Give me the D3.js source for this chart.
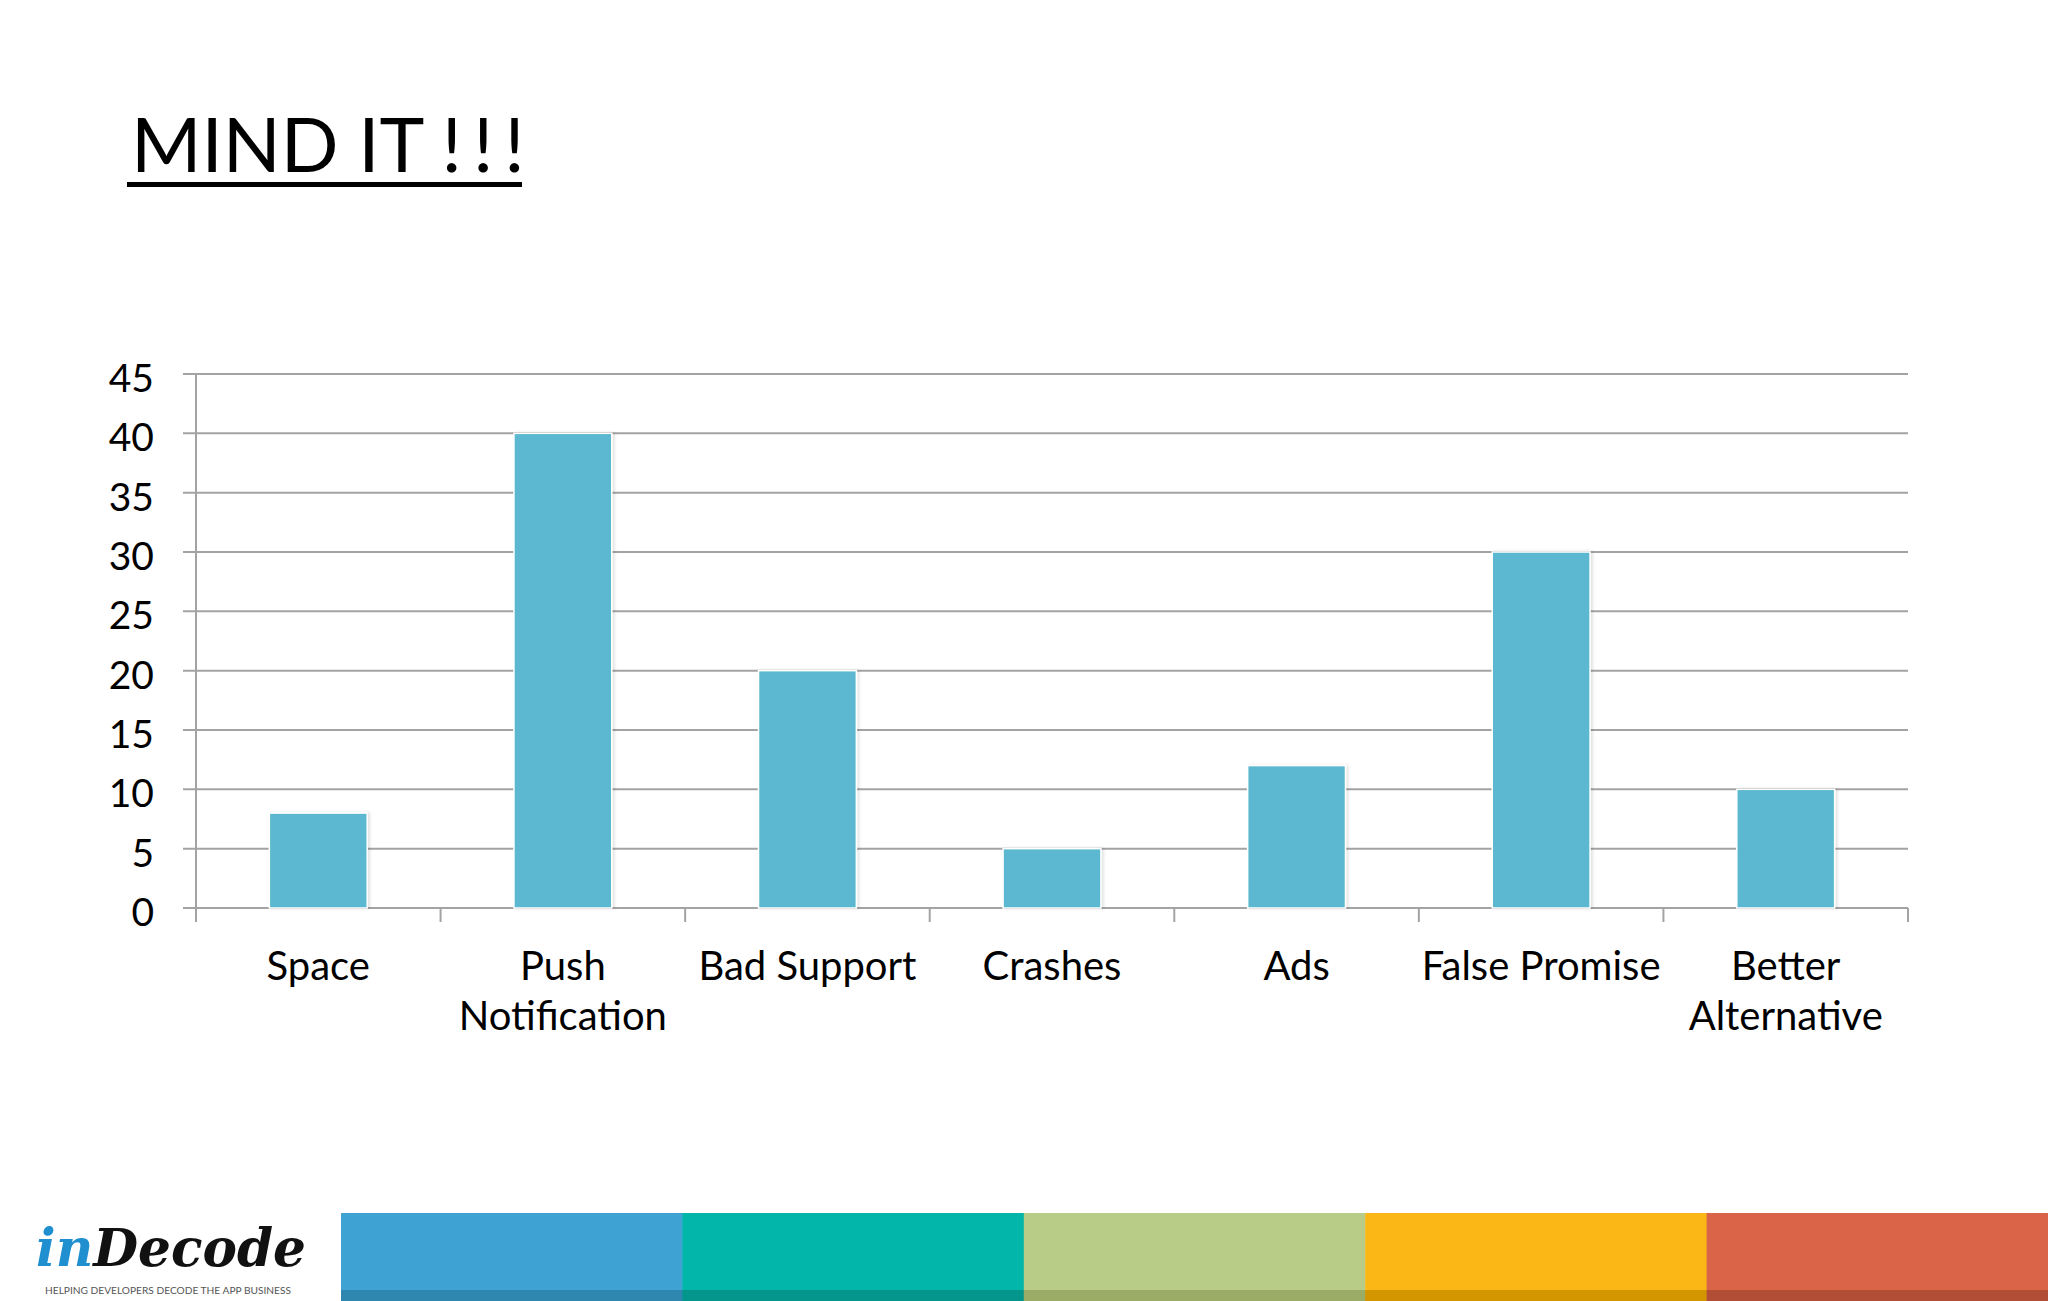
<!DOCTYPE html>
<html>
<head>
<meta charset="utf-8">
<script src="https://cdn.jsdelivr.net/npm/d3@7"></script>
<style>
  html, body { margin: 0; padding: 0; background: #ffffff; }
  svg { display: block; }
</style>
</head>
<body>
<svg id="chart" width="2048" height="1301"></svg>
<script>
const categories = ["Space", "Push Notification", "Bad Support", "Crashes", "Ads", "False Promise", "Better Alternative"];
const labelLines = [["Space"], ["Push", "Notification"], ["Bad Support"], ["Crashes"], ["Ads"], ["False Promise"], ["Better", "Alternative"]];
const values = [8, 40, 20, 5, 12, 30, 10];
const yTicks = [0, 5, 10, 15, 20, 25, 30, 35, 40, 45];
const titleWords = "MIND IT ";
const titleBang = "!!!";
const footerColors = ["#3EA2D2", "#03B6AA", "#B9CC87", "#FAB716", "#D96448"];
const footerDark = ["#2F86AE", "#04968C", "#9AAC66", "#D49600", "#B24E36"];

const svg = d3.select("#chart");
const font = "Lato, 'Open Sans', sans-serif";

// Title
const t = svg.append("text")
  .attr("x", 131).attr("y", 172)
  .attr("font-family", font)
  .attr("font-size", 76)
  .attr("fill", "#000");
t.append("tspan").text(titleWords);
t.append("tspan").attr("letter-spacing", 11).text(titleBang);
svg.append("rect").attr("x", 127).attr("y", 182).attr("width", 395).attr("height", 5).attr("fill", "#000");

// Scales
const pLeft = 196, pRight = 1908, pTop = 374, pBottom = 908;
const x = d3.scaleBand().domain(categories).range([pLeft, pRight]).paddingInner(0.6).paddingOuter(0.3);
const xb = d3.scaleBand().domain(categories).range([pLeft, pRight]);
const y = d3.scaleLinear().domain([0, 45]).range([pBottom, pTop]);

// Gridlines
const gridColor = "#A3A3A3";
svg.append("g").selectAll("line").data(yTicks).join("line")
  .attr("x1", pLeft - 13).attr("x2", pRight)
  .attr("y1", d => y(d)).attr("y2", d => y(d))
  .attr("stroke", gridColor).attr("stroke-width", 2);

// y axis line
svg.append("line").attr("x1", pLeft).attr("x2", pLeft).attr("y1", pTop).attr("y2", pBottom + 14)
  .attr("stroke", gridColor).attr("stroke-width", 2);

// x ticks at band boundaries
const boundaries = categories.map(c => xb(c)).concat([pRight]);
svg.append("g").selectAll("line").data(boundaries.slice(1)).join("line")
  .attr("x1", d => d).attr("x2", d => d)
  .attr("y1", pBottom).attr("y2", pBottom + 14)
  .attr("stroke", gridColor).attr("stroke-width", 2);

// Y tick labels
svg.append("g").selectAll("text").data(yTicks).join("text")
  .attr("x", 154).attr("y", d => y(d) + 18)
  .attr("text-anchor", "end")
  .attr("font-family", font).attr("font-size", 39).attr("fill", "#000")
  .text(d => d);

// shadow filter
const defs = svg.append("defs");
const f = defs.append("filter").attr("id", "sh").attr("x", "-10%").attr("y", "-10%").attr("width", "120%").attr("height", "120%");
f.append("feDropShadow").attr("dx", 2).attr("dy", 0).attr("stdDeviation", 1.5).attr("flood-color", "#000").attr("flood-opacity", 0.12);

// Bars
svg.append("g").selectAll("rect").data(categories).join("rect")
  .attr("x", d => x(d))
  .attr("y", (d, i) => y(values[i]))
  .attr("width", x.bandwidth())
  .attr("height", (d, i) => pBottom - y(values[i]))
  .attr("fill", "#5BB8D0")
  .attr("stroke", "#ffffff").attr("stroke-width", 1.5)
  .attr("filter", "url(#sh)");

// X labels
const xl = svg.append("g").selectAll("text").data(categories).join("text")
  .attr("x", d => xb(d) + xb.bandwidth() / 2)
  .attr("y", 980)
  .attr("text-anchor", "middle")
  .attr("font-family", font).attr("font-size", 40).attr("fill", "#000");
xl.selectAll("tspan").data((d, i) => labelLines[i]).join("tspan")
  .attr("x", function() { return d3.select(this.parentNode).attr("x"); })
  .attr("dy", (d, j) => j === 0 ? 0 : 50)
  .text(d => d);

// Footer color bands
const fx = d3.scaleBand().domain(d3.range(footerColors.length)).range([341, 2048]);
svg.append("g").selectAll("rect").data(footerColors).join("rect")
  .attr("x", (d, i) => fx(i)).attr("y", 1213).attr("width", fx.bandwidth() + 0.5).attr("height", 88)
  .attr("fill", d => d);
svg.append("g").selectAll("rect").data(footerDark).join("rect")
  .attr("x", (d, i) => fx(i)).attr("y", 1290).attr("width", fx.bandwidth() + 0.5).attr("height", 11)
  .attr("fill", d => d);

// Logo
const logo = svg.append("text").attr("x", 36).attr("y", 1266)
  .attr("font-family", "'DejaVu Serif', 'Liberation Serif', serif")
  .attr("font-style", "italic").attr("font-weight", "bold").attr("font-size", 52);
logo.append("tspan").attr("fill", "#1F8FD0").text("in");
logo.append("tspan").attr("fill", "#111").text("Decode");
logo.attr("textLength", 270).attr("lengthAdjust", "spacingAndGlyphs");
svg.append("text").attr("x", 45).attr("y", 1294)
  .attr("font-family", font).attr("font-size", 10).attr("fill", "#555")
  .attr("textLength", 246).attr("lengthAdjust", "spacingAndGlyphs")
  .text("HELPING DEVELOPERS DECODE THE APP BUSINESS");
</script>
</body>
</html>
